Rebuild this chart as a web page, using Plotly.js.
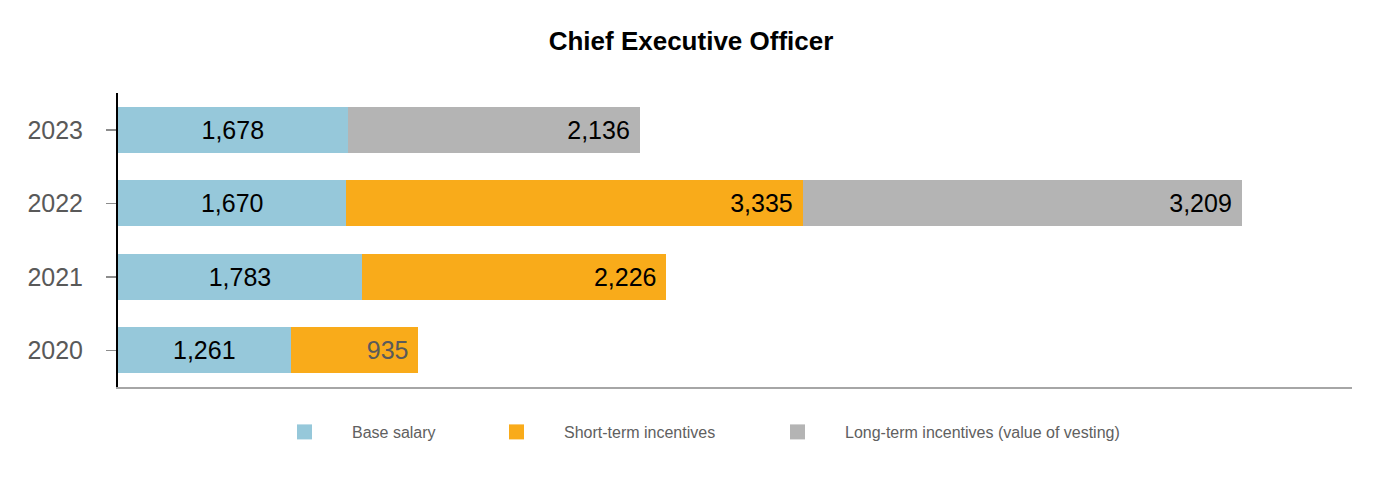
<!DOCTYPE html>
<html>
<head>
<meta charset="utf-8">
<script src="https://cdn.plot.ly/plotly-3.0.1.min.js"></script>
<style>html,body{margin:0;padding:0;background:#fff;}</style>
</head>
<body>
<div id="chart" style="width:1382px;height:480px;"></div>
<script>
const years = ['2020', '2021', '2022', '2023'];
const baseSalary = [1261, 1783, 1670, 1678];
const shortTerm = [935, 2226, 3335, null];
const longTerm = [null, null, 3209, 2136];
const seriesNames = ['Base salary', 'Short-term incentives', 'Long-term incentives (value of vesting)'];
const colors = ['#96C8DA', '#F9AB1A', '#B4B4B4'];
const shortTermLabelColors = ['#5a5a5a', '#000000', '#000000', '#000000'];

const FONT = 'Liberation Sans, Arial, sans-serif';
const W = 1382, H = 480;

const barCommon = {
  type: 'bar', orientation: 'h', y: years, showlegend: false,
  textposition: 'inside', cliponaxis: false, constraintext: 'none',
  hoverinfo: 'skip'
};

const traces = [
  Object.assign({}, barCommon, {
    name: seriesNames[0], x: baseSalary, marker: {color: colors[0]},
    texttemplate: '%{x:,}', insidetextanchor: 'middle',
    textfont: {family: FONT, size: 25, color: '#000000'}
  }),
  Object.assign({}, barCommon, {
    name: seriesNames[1], x: shortTerm, marker: {color: colors[1]},
    texttemplate: '%{x:,}\u00a0', insidetextanchor: 'end',
    textfont: {family: FONT, size: 25, color: shortTermLabelColors}
  }),
  Object.assign({}, barCommon, {
    name: seriesNames[2], x: longTerm, marker: {color: colors[2]},
    texttemplate: '%{x:,}\u00a0', insidetextanchor: 'end',
    textfont: {family: FONT, size: 25, color: '#000000'}
  })
];

// legend entries (one legend per series so each can be placed like the reference)
const legendIds = ['legend', 'legend2', 'legend3'];
seriesNames.forEach((n, i) => {
  traces.push({
    type: 'scatter', mode: 'markers', x: [null], y: [null], name: n,
    marker: {symbol: 'square', size: 15, color: colors[i]},
    legend: legendIds[i], showlegend: true, hoverinfo: 'skip'
  });
});

const legendTextX = [352, 564, 845];
const legendBase = (px) => ({
  orientation: 'h', xref: 'container', yref: 'container',
  x: (px - 95) / W, xanchor: 'left', y: 1 - 432 / H, yanchor: 'middle',
  itemwidth: 85,
  bgcolor: 'rgba(0,0,0,0)', borderwidth: 0,
  font: {family: FONT, size: 16, color: '#606060'}
});

const layout = {
  width: W, height: H,
  paper_bgcolor: '#ffffff', plot_bgcolor: '#ffffff',
  margin: {l: 118, r: 30, t: 93, b: 93},
  barmode: 'stack', bargap: 0.38,
  font: {family: FONT},
  title: {
    text: '<b>Chief Executive Officer</b>',
    font: {family: FONT, size: 26, color: '#000000'},
    x: 0.5, xref: 'container', xanchor: 'center',
    y: 1 - 41 / H, yref: 'container', yanchor: 'middle'
  },
  xaxis: {
    range: [0, 9020], showgrid: false, zeroline: false,
    showticklabels: false, ticks: '',
    showline: true, linecolor: '#a6a6a6', linewidth: 2
  },
  yaxis: {
    type: 'category', range: [-0.5, 3.5],
    showgrid: false, zeroline: false,
    showline: true, linecolor: '#000000', linewidth: 2,
    ticks: 'outside', ticklen: 10, tickwidth: 1.5, tickcolor: '#8c8c8c',
    ticklabelstandoff: 18,
    tickfont: {family: FONT, size: 25, color: '#595959'}
  },
  legend: legendBase(legendTextX[0]),
  legend2: legendBase(legendTextX[1]),
  legend3: legendBase(legendTextX[2])
};

Plotly.newPlot('chart', traces, layout, {displayModeBar: false, staticPlot: true});
</script>
</body>
</html>
